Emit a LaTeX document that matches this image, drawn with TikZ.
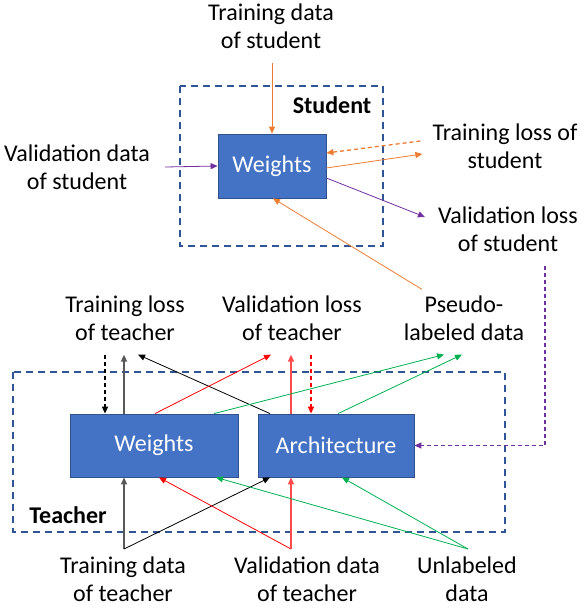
\documentclass[tikz,border=0pt]{standalone}
\usepackage{fontspec}
\setmainfont{Carlito}
\usetikzlibrary{arrows.meta}
\definecolor{boxblue}{HTML}{4472C4}
\definecolor{boxedge}{HTML}{2F528F}
\definecolor{frameblue}{HTML}{2F5597}
\definecolor{orng}{HTML}{ED7D31}
\definecolor{purp}{HTML}{7030A0}
\definecolor{grn}{HTML}{00B050}
\definecolor{dgray}{HTML}{595959}
\definecolor{lred}{HTML}{FF4B4B}
\begin{document}
\begin{tikzpicture}[x=1pt, y=-1pt, font=\fontsize{24}{28}\selectfont,
  >={Triangle[length=7pt,width=6pt]},
  wbox/.style={draw=boxedge, fill=boxblue, text=white, line width=0.8pt, inner sep=0pt},
  lbl/.style={align=center, inner sep=0pt},
  frame/.style={draw=frameblue, line width=1.6pt, dash pattern=on 7pt off 5pt},
  ar/.style={->, line width=0.8pt},
  thk/.style={->, line width=1.6pt},
  da/.style={->, line width=1.3pt, dash pattern=on 4pt off 3pt}]
  \useasboundingbox (0,0) rectangle (586,608);
  \draw[frame] (180,86) rectangle (383,246);
  \draw[frame] (13,372) rectangle (505,532);
  \node[font=\fontsize{24}{28}\selectfont\bfseries, inner sep=0pt] (stu) at (332,105) {Student};
  \node[font=\fontsize{24}{28}\selectfont\bfseries, inner sep=0pt] (tea) at (68,515) {Teacher};
  \node[wbox, minimum width=108pt, minimum height=64pt] (sw) at (272,166) {Weights};
  \node[wbox, minimum width=168pt, minimum height=63pt] (tw) at (154,445.5) {Weights};
  \node[wbox, minimum width=156pt, minimum height=63pt] (ta) at (336,445.5) {Architecture};
  \node[lbl] (tds) at (271,26) {Training data\\of student};
  \node[lbl] (vds) at (77,167) {Validation data\\of student};
  \node[lbl] (tls) at (505,146) {Training loss of\\student};
  \node[lbl] (vls) at (508,229) {Validation loss\\of student};
  \node[lbl] (tlt) at (125,318) {Training loss\\of teacher};
  \node[lbl] (vlt) at (292,318) {Validation loss\\of teacher};
  \node[lbl] (pld) at (464,318) {Pseudo-\\labeled data};
  \node[lbl] (tdt) at (123,579) {Training data\\of teacher};
  \node[lbl] (vdt) at (307,579) {Validation data\\of teacher};
  \node[lbl] (ud) at (467,579) {Unlabeled\\data};
  \coordinate (jtd) at (124,549);
  \coordinate (jvd) at (291,549);
  \coordinate (jud) at (468,549);
  \draw[ar, orng] ([xshift=1pt,yshift=-14pt]tds.south) -- (sw.north);
  \draw[ar, purp] ([xshift=15pt]vds.east) -- (sw.west);
  \draw[da, orng] ([xshift=-12pt,yshift=5pt]tls.west) -- ([yshift=13pt]sw.east);
  \draw[ar, orng] ([yshift=-2pt]sw.east) -- ([xshift=-10pt,yshift=-8pt]tls.west);
  \draw[ar, purp] ([yshift=-12pt]sw.east) -- ([xshift=-13pt,yshift=12pt]vls.west);
  \draw[ar, orng] ([xshift=-42pt,yshift=6pt]pld.north) -- ([xshift=1pt]sw.south);
  \draw[da, purp] ([xshift=37pt,yshift=-14pt]vls.south) |- (ta.east);
  \draw[da] ([xshift=-20pt,yshift=-14pt]tlt.south) -- ([xshift=-49pt]tw.north);
  \draw[thk, dgray] ([xshift=-30pt]tw.north) -- ([xshift=-1pt,yshift=-14pt]tlt.south);
  \draw[ar] ([xshift=-66pt]ta.north) -- ([xshift=13pt,yshift=-14pt]tlt.south);
  \draw[ar, red] ([xshift=1pt]tw.north) -- ([xshift=-21pt,yshift=-14pt]vlt.south);
  \draw[thk, lred] ([xshift=-45pt]ta.north) -- ([xshift=-1pt,yshift=-14pt]vlt.south);
  \draw[da, red] ([xshift=19pt,yshift=-14pt]vlt.south) -- ([xshift=-25pt]ta.north);
  \draw[ar, grn] ([xshift=60pt]tw.north) -- ([xshift=-20pt,yshift=-14pt]pld.south);
  \draw[ar, grn] ([xshift=2pt]ta.north) -- ([xshift=-2pt,yshift=-14pt]pld.south);
  \draw[thk, dgray] (jtd) -- ([xshift=-30pt]tw.south);
  \draw[ar] (jtd) -- ([xshift=-66pt]ta.south);
  \draw[ar, red] (jvd) -- ([xshift=5pt]tw.south);
  \draw[thk, lred] (jvd) -- ([xshift=-45pt]ta.south);
  \draw[ar, grn] (jud) -- ([xshift=62pt]tw.south);
  \draw[ar, grn] (jud) -- ([xshift=6pt]ta.south);
\end{tikzpicture}
\end{document}
